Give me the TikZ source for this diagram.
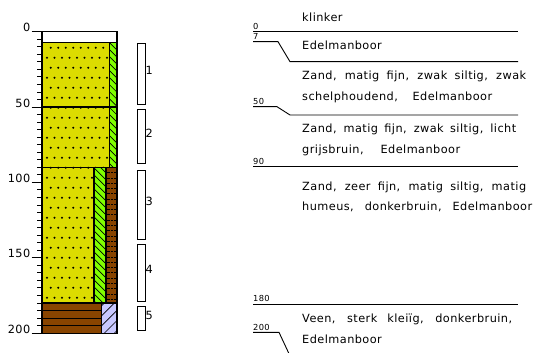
\documentclass[tikz,border=0pt]{standalone}
\usepackage{fontspec}
\setmainfont{DejaVu Sans}[LetterSpace=4]
\usepackage{xcolor}
\usetikzlibrary{positioning}
\definecolor{INK}{HTML}{000000}
\definecolor{SAND}{HTML}{DCDC00}
\definecolor{SILT}{HTML}{80FF00}
\definecolor{PEAT}{HTML}{884400}
\definecolor{LILA}{HTML}{C8C8FF}

% one description line, spread out to a given width (pt)
\newcommand{\fitline}[2]{{\spaceskip=0.3333em plus 3em\relax\makebox[#1pt][s]{#2}}}

% yellow sand with dots: x1, d1, x2, d2
\newcommand{\sandbox}[4]{%
  \begin{scope}
    \clip (#1,#2) rectangle (#3,#4);
    \fill[SAND] (#1,#2) rectangle (#3,#4);
    \foreach \r in {0,...,29} {
      \pgfmathsetmacro{\rowd}{10.6+6.64*\r}
      \pgfmathsetmacro{\rowx}{47+3.75*mod(\r+1,2)}
      \foreach \c in {0,...,9}
        \fill[INK] ({\rowx+7.5*\c},\rowd) circle (1.1pt);
    }
  \end{scope}
  \draw[layer] (#1,#2) rectangle (#3,#4);
}

% green silt strip, hatched down to the right
\newcommand{\siltbox}[4]{%
  \begin{scope}
    \clip (#1,#2) rectangle (#3,#4);
    \fill[SILT] (#1,#2) rectangle (#3,#4);
    \foreach \k in {0,...,24}
      \draw[hatch] (#1,{#2-9+4.65*\k}) -- ++(16pt,-16pt);
  \end{scope}
  \draw[layer] (#1,#2) rectangle (#3,#4);
}

% brown humus strip with broken lines
\newcommand{\humusbox}[4]{%
  \begin{scope}
    \clip (#1,#2) rectangle (#3,#4);
    \fill[PEAT] (#1,#2) rectangle (#3,#4);
    \foreach \k in {1,...,26}
      \draw[hatch, dash pattern=on 4pt off 1.2pt on 2pt off 1.2pt]
        (#1,{#2+3.5*\k}) -- (#3,{#2+3.5*\k});
  \end{scope}
  \draw[layer] (#1,#2) rectangle (#3,#4);
}

% lilac clay strip, hatched up to the right
\newcommand{\claybox}[4]{%
  \begin{scope}
    \clip (#1,#2) rectangle (#3,#4);
    \fill[LILA] (#1,#2) rectangle (#3,#4);
    \foreach \k in {0,...,6}
      \draw[hatch] (#1,{#2+2+6.64*\k}) -- ++(20pt,20pt);
  \end{scope}
  \draw[layer] (#1,#2) rectangle (#3,#4);
}

\begin{document}
\begin{tikzpicture}[
    x=1pt, y=-1pt,
    font=\fontsize{11.3}{20.5}\selectfont,
    layer/.style={draw=INK, line width=1.1pt},
    tick/.style={draw=INK, line width=0.9pt},
    hatch/.style={draw=INK, line width=0.7pt},
    depth/.style={anchor=base east, inner sep=0pt},
    sample/.style={draw=INK, fill=white, line width=0.9pt},
    samplenr/.style={anchor=west, inner sep=0pt},
    cut/.style={draw=INK, line width=0.9pt},
    cutnr/.style={font=\fontsize{8.3}{9}\selectfont, anchor=base west, inner sep=0pt},
    desc/.style={anchor=base west, inner sep=0pt, text width=240pt, align=left},
  ]
  \useasboundingbox (0,0) rectangle (539,353);

  % --- boring column, y in cm depth ---
  \begin{scope}[y=-1.507pt, yshift=-31.7pt]
    \draw[layer, fill=white] (42,0) rectangle (117,7);
    \sandbox{42}{7}{109.5}{50}
    \siltbox{109.5}{7}{117}{50}
    \sandbox{42}{50}{109.5}{90}
    \siltbox{109.5}{50}{117}{90}
    \sandbox{42}{90}{94}{180}
    \siltbox{94}{90}{106}{180}
    \humusbox{106}{90}{117}{180}
    % peat
    \fill[PEAT] (42,180) rectangle (101.5,200);
    \foreach \d in {185,190,195}
      \draw[hatch, line width=1pt] (42,\d) -- (101.5,\d);
    \draw[layer] (42,180) rectangle (101.5,200);
    \claybox{101.5}{180}{117}{200}

    % depth scale
    \foreach \k in {0,...,40}
      \draw[tick] (37,{5*\k}) -- (42,{5*\k});
    \foreach \d in {0,50,...,200} {
      \draw[tick] (31.7,\d) -- (42,\d);
      \node[depth] (d\d) at (30.5,\d) {\d};
    }

    % samples
    \foreach \n/\t/\b in {1/8/48.3, 2/51.5/87.3, 3/92/137.8, 4/141.5/178.7, 5/182.5/198.4} {
      \draw[sample] (137,\t) rectangle (145,\b);
      \node[samplenr] (s\n) at (145.5,{(\t+\b)/2-2.3}) {\n};
    }
  \end{scope}

  % --- layer boundaries on the right ---
  \draw[cut] (253,31.7) -- (518,31.7);
  \draw[cut] (253,41.7) -- (278,41.7) -- (290,61.7) -- (518,61.7);
  \draw[cut] (253,106.7) -- (277,106.7) -- (290,115) -- (518,115);
  \draw[cut] (253,166.7) -- (518,166.7);
  \draw[cut] (253,304) -- (518,304);
  \draw[cut] (253,332.3) -- (279,332.3) -- (291,358);

  \node[cutnr] (c0) at (253,29.4) {0};
  \node[cutnr] (c7) at (253,39.4) {7};
  \node[cutnr] (c50) at (253,104.4) {50};
  \node[cutnr] (c90) at (253,164.4) {90};
  \node[cutnr] (c180) at (253,301.8) {180};
  \node[cutnr] (c200) at (253,330) {200};

  % descriptions
  \node[desc] (t0) at (302,21.7) {klinker};
  \node[desc] (t7) at (302,49.3) {Edelmanboor};
  \node[desc] (t50) at (302,80)
    {\fitline{224}{Zand, matig fijn, zwak siltig, zwak}\\
     \fitline{190}{schelphoudend, Edelmanboor}};
  \node[desc] (t90) at (302,132.7)
    {\fitline{214}{Zand, matig fijn, zwak siltig, licht}\\
     \fitline{158}{grijsbruin, Edelmanboor}};
  \node[desc] (t180) at (302,190)
    {\fitline{224}{Zand, zeer fijn, matig siltig, matig}\\
     \fitline{230}{humeus, donkerbruin, Edelmanboor}};
  \node[desc] (t200) at (302,322.7)
    {\fitline{210}{Veen, sterk kleiïg, donkerbruin,}\\
     Edelmanboor};

\end{tikzpicture}
\end{document}
